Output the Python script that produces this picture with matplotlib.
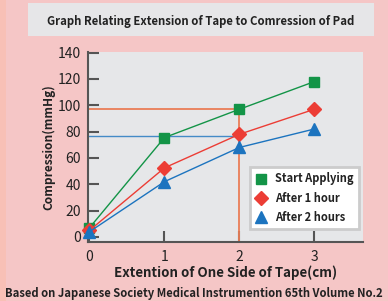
import matplotlib.pyplot as plt
from matplotlib.patches import Rectangle

plt.rcParams["font.family"] = ["Noto Sans CJK JP", "DejaVu Sans"]

extension = [0, 1, 2, 3]
start_applying = [7, 75.5, 97, 118]
after_1_hour = [5, 52.5, 78, 97]
after_2_hours = [4, 42, 68, 82]
y_ticks = [0, 20, 40, 60, 80, 100, 120, 140]

green = "#139447"
red = "#ec3d35"
blue = "#1c74bf"
orange = "#ea7d57"

fig = plt.figure(figsize=(3.88, 3.01), dpi=100)
fig.patch.set_facecolor("#f5c6c6")

# darker strip on the left edge
fig.add_artist(Rectangle((0, 0), 6 / 388, 1, transform=fig.transFigure,
                         facecolor="#f8c0b6", edgecolor="none"))

# title box
fig.add_artist(Rectangle((28 / 388, 1 - 36 / 301), 346 / 388, 33 / 301,
                         transform=fig.transFigure, facecolor="#e6e6e8", edgecolor="none"))
fig.text(201 / 388, 1 - 21 / 301, "Graph Relating Extension of Tape to Comression of Pad",
         ha="center", va="center", fontsize=8.2, fontweight="bold", color="#222222")

ax = fig.add_axes([88 / 388, 1 - 242 / 301, (363 - 88) / 388, (242 - 52) / 301])
ax.set_facecolor("#e6e7e9")
ax.set_xlim(-0.02, 3.65)
ax.set_ylim(-3.8, 140.5)

# reference lines
ax.plot([-0.02, 2], [97, 97], color=orange, lw=1.3, zorder=2)
ax.plot([2, 2], [97, -3.8], color=orange, lw=1.3, zorder=2)
ax.plot([-0.02, 2], [76.5, 76.5], color=blue, lw=1.0, alpha=0.8, zorder=2)

ax.plot(extension, start_applying, color=green, lw=1, marker="s", ms=7,
        label="Start Applying", clip_on=False, zorder=4)
ax.plot(extension, after_1_hour, color=red, lw=1, marker="D", ms=7,
        label="After 1 hour", clip_on=False, zorder=4)
ax.plot(extension, after_2_hours, color=blue, lw=1, marker="^", ms=8,
        label="After 2 hours", clip_on=False, zorder=4)

for side in ["top", "right"]:
    ax.spines[side].set_visible(False)
for side in ["left", "bottom"]:
    ax.spines[side].set_color("#555555")
    ax.spines[side].set_linewidth(1.5)

ax.set_xticks(extension)
ax.set_yticks(y_ticks)
ax.tick_params(direction="in", length=8, width=1.5, color="#555555",
               labelsize=10, labelcolor="#222222")
ax.tick_params(axis="y", pad=5)
ax.tick_params(axis="x", pad=6)

ax.set_ylabel("Compression(mmHg)", fontsize=8.6, fontweight="bold", color="#222222", labelpad=2)
ax.set_xlabel("Extention of One Side of Tape(cm)", fontsize=9.6, fontweight="bold",
              color="#222222", labelpad=1)

leg = ax.legend(loc="lower right", bbox_to_anchor=(0.985, 0.07), fontsize=8,
                frameon=True, fancybox=False, handlelength=1, handletextpad=0.8,
                borderpad=0.45, labelspacing=0.55, framealpha=1, borderaxespad=0)
leg.get_frame().set_edgecolor("#cccccc")
leg.get_frame().set_linewidth(2)
for h in leg.legend_handles:
    h.set_linestyle("none")
for t in leg.get_texts():
    t.set_fontweight("bold")
    t.set_color("#222222")

fig.text(5 / 388, 1 - 293 / 301,
         "Based on Japanese Society Medical Instrumention 65th Volume No.2",
         ha="left", va="center", fontsize=8.1, fontweight="bold", color="#222222")

fig.savefig("out.png", dpi=100, facecolor=fig.get_facecolor())
